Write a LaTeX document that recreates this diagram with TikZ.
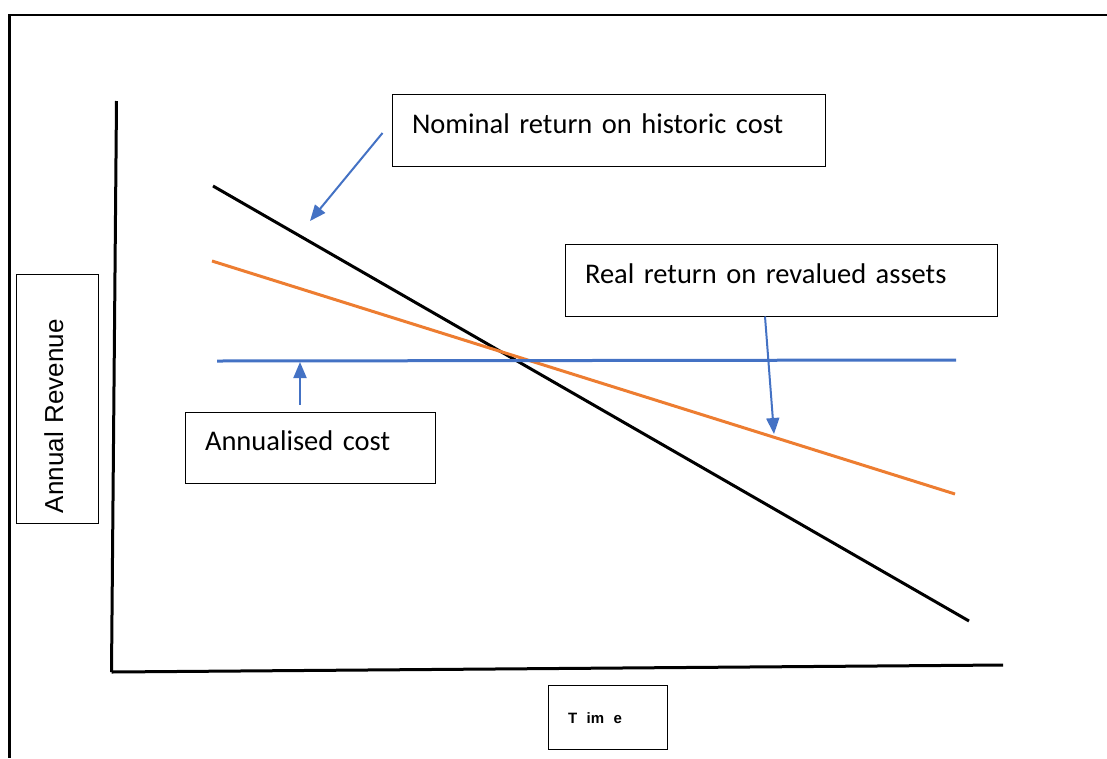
\documentclass[tikz,border=0pt]{standalone}
\usepackage{fontspec}
\setmainfont{Carlito}
\newfontfamily\arialfont{Liberation Sans}
\newcommand{\widespaces}{\spaceskip=9.5pt plus 1pt\relax\xspaceskip=9.5pt\relax}
\usetikzlibrary{arrows.meta}
\definecolor{lineblue}{HTML}{4472C4}
\definecolor{lineorange}{HTML}{ED7D31}
\begin{document}
\begin{tikzpicture}[x=1pt,y=-1pt,
    labelbox/.style={draw, line width=1pt, inner xsep=20pt, inner ysep=0pt,
      minimum height=72pt, text height=21pt, text depth=15pt, align=left,
      font=\fontsize{28.5}{34}\selectfont},
    pointer/.style={lineblue, line width=2pt, -{Triangle[length=16pt,width=13pt]}}]
    \useasboundingbox (0,0) rectangle (1107,758);
    \draw[line width=2.6pt] (1107,15) -- (9.5,15) -- (9.5,758);  % frame
    \draw[line width=3pt] (116.5,101) -- (111.5,672);  % revenue axis
    \draw[line width=3pt] (111.5,672) -- (1003,665);   % time axis
    \draw[line width=3pt] (213,186) -- (969,621);                 % nominal
    \draw[line width=3pt, lineorange] (212,261) -- (955,494);     % real
    \draw[line width=3pt, lineblue] (217,361) -- (956,360);       % cost
    \node[labelbox, text width=393pt] (nominal) at (608.5,130) {Nominal return on historic cost};
    \node[labelbox, text width=392pt] (real) at (781,280) {Real return on revalued assets};
    \node[labelbox, text width=210pt, minimum height=71pt] (annualised) at (310,447.5) {Annualised cost};
    \node[draw, line width=1pt, rotate=90, inner xsep=10pt, inner ysep=0pt, text width=229pt,
      minimum height=82pt, text height=20pt, text depth=8pt, align=left,
      font=\arialfont\fontsize{26}{30}\selectfont] (revenue) at (57,398.5) {Annual Revenue};
    \node[draw, line width=1pt, inner xsep=20pt, inner ysep=0pt, text width=79pt,
      minimum height=64pt, text height=14pt, text depth=2pt, align=left,
      font=\arialfont\bfseries\fontsize{15}{18}\selectfont] (time) at (607.5,717) {\widespaces T im e};
    \coordinate (nomtip) at (310,221);
    \coordinate (realtip) at (774,434);
    \coordinate (costtip) at (300,362);
    \draw[pointer] ([xshift=-9pt,yshift=-3pt]nominal.west) -- (nomtip);
    \draw[pointer] ([xshift=-16pt]real.south) -- (realtip);
    \draw[pointer] ([xshift=-10pt,yshift=7pt]annualised.north) -- (costtip);
  \end{tikzpicture}
\end{document}
